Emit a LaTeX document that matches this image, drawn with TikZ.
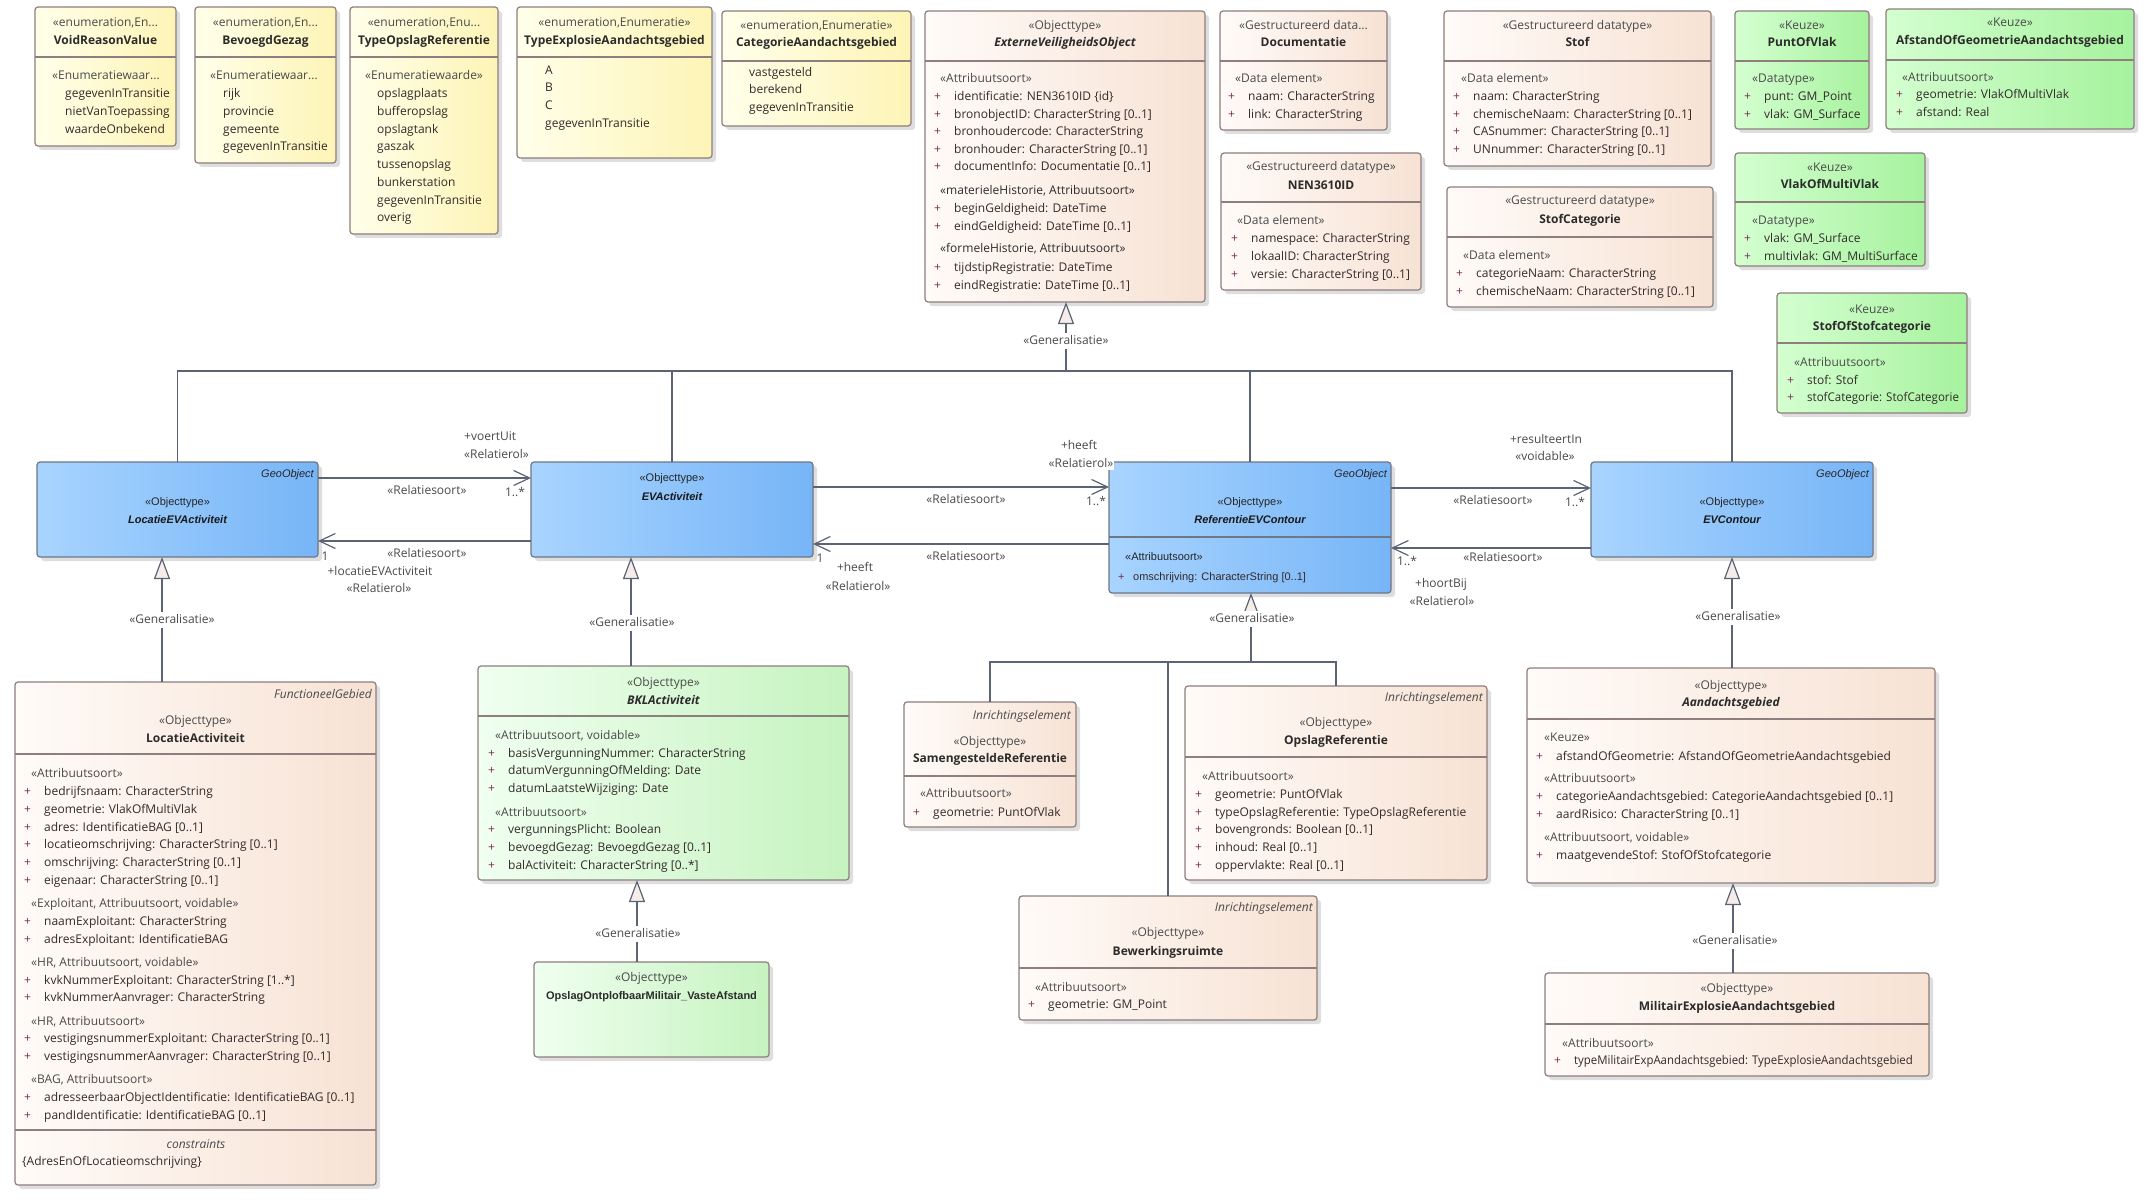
\documentclass[tikz,border=0pt]{standalone}
\usepackage{fontspec}
\setmainfont{Open Sans}
\newfontfamily\arialf{Liberation Sans}
\usetikzlibrary{arrows.meta,shadows}
\definecolor{lnc}{HTML}{5B6475}
\definecolor{bdc}{HTML}{8E7E7E}
\definecolor{bluB}{HTML}{6E7784}
\definecolor{txc}{HTML}{332A2A}
\definecolor{sterc}{HTML}{4A4A4A}
\definecolor{namec}{HTML}{2B2B2B}
\definecolor{plc}{HTML}{7B2D50}
\definecolor{genf}{HTML}{F6ECEA}
\definecolor{yelL}{HTML}{FFFFEA}
\definecolor{yelR}{HTML}{FDF4B6}
\definecolor{peaL}{HTML}{FFFBF8}
\definecolor{peaR}{HTML}{F7E2D4}
\definecolor{grnL}{HTML}{D4FFD0}
\definecolor{grnR}{HTML}{A6F29E}
\definecolor{lgrL}{HTML}{F0FFF0}
\definecolor{lgrR}{HTML}{C6F3C0}
\definecolor{bluL}{HTML}{A8D4FF}
\definecolor{bluR}{HTML}{77B5F7}
\newcommand\fs{\fontsize{12}{14}\selectfont}
\newcommand\afs{\arialf\fontsize{11}{13}\selectfont}
\newcommand\pl{\makebox[20pt][l]{\textcolor{plc}{+}}}
\newcommand\bpl{\makebox[15pt][l]{\textcolor{plc}{+}}}
\newcommand\B[6]{\node[#2, minimum width={#5-#3}, minimum height={#6-#4}] (#1) at (#3,#4) {};}
\newcommand\D[3]{\draw[div] (#1,#3) -- (#2,#3);}
\begin{document}
\begin{tikzpicture}[x=1pt,y=-1pt, font=\fs, text=txc,
  box/.style={draw=bdc, line width=1.2pt, rounded corners=3pt, anchor=north west, inner sep=0pt, outer sep=0pt,
    drop shadow={shadow xshift=4pt,shadow yshift=-4pt,fill=black,opacity=0.13}},
  yel/.style={box, left color=yelL, right color=yelR},
  pea/.style={box, left color=peaL, right color=peaR},
  grn/.style={box, left color=grnL, right color=grnR},
  lgr/.style={box, left color=lgrL, right color=lgrR},
  blu/.style={box, draw=bluB, left color=bluL, right color=bluR},
  div/.style={draw=bdc, line width=1.1pt},
  txt/.style={inner sep=0pt, text height=9pt, text depth=3pt},
  ster/.style={txt, text=sterc},
  nm/.style={txt, font=\fs\bfseries, text=namec},
  nmi/.style={txt, font=\fs\bfseries\itshape, text=namec},
  sec/.style={txt, anchor=west, text=sterc},
  att/.style={txt, anchor=west},
  cor/.style={txt, anchor=east, font=\fs\itshape, text=sterc},
  lbl/.style={txt, text=sterc},
  bster/.style={txt, font=\afs, text=black!85},
  bnm/.style={txt, font=\afs\bfseries\itshape, text=black!90},
  bcor/.style={txt, anchor=east, font=\afs\itshape, text=black!85},
  bsec/.style={txt, anchor=west, font=\afs, text=black!85},
  batt/.style={txt, anchor=west, font=\afs, text=txc},
  conn/.style={draw=lnc, line width=1.3pt},
  assoc/.style={conn, -{Straight Barb[length=16pt,width=15pt,line width=1.2pt]}},
  gen/.style={conn, -{Triangle[length=22pt,width=16pt,fill=genf,line width=1.2pt]}},
  glbl/.style={txt, text=sterc, fill=white, inner xsep=1pt, inner ysep=2pt}
]
\fill[white] (0,0) rectangle (2153,1201);
\useasboundingbox (0,0) rectangle (2153,1201);

% ---------------- top row: enumerations ----------------
\B{vrv}{yel}{35}{7}{176}{146}\D{35}{176}{57}
\node[ster] (vrv-s) at (105.5,24) {«enumeration,En...};
\node[nm] (vrv-n) at (105.5,42) {VoidReasonValue};
\node[sec] (vrv-k) at (52,77) {«Enumeratiewaar...};
\node[att] (vrv-1) at (65,95) {gegevenInTransitie};
\node[att] (vrv-2) at (65,113) {nietVanToepassing};
\node[att] (vrv-3) at (65,131) {waardeOnbekend};

\B{bg}{yel}{195}{7}{336}{163}\D{195}{336}{57}
\node[ster] (bg-s) at (265.5,24) {«enumeration,En...};
\node[nm] (bg-n) at (265.5,42) {BevoegdGezag};
\node[sec] (bg-k) at (210,77) {«Enumeratiewaar...};
\node[att] (bg-1) at (223,95) {rijk};
\node[att] (bg-2) at (223,113) {provincie};
\node[att] (bg-3) at (223,131) {gemeente};
\node[att] (bg-4) at (223,148) {gegevenInTransitie};

\B{tor}{yel}{350}{7}{498}{234}\D{350}{498}{57}
\node[ster] (tor-s) at (424,24) {«enumeration,Enu...};
\node[nm] (tor-n) at (424,42) {TypeOpslagReferentie};
\node[sec] (tor-k) at (365,77) {«Enumeratiewaarde»};
\node[att] (tor-1) at (377,95) {opslagplaats};
\node[att] (tor-2) at (377,113) {bufferopslag};
\node[att] (tor-3) at (377,131) {opslagtank};
\node[att] (tor-4) at (377,148) {gaszak};
\node[att] (tor-5) at (377,166) {tussenopslag};
\node[att] (tor-6) at (377,184) {bunkerstation};
\node[att] (tor-7) at (377,202) {gegevenInTransitie};
\node[att] (tor-8) at (377,219) {overig};

\B{tea}{yel}{517}{7}{712}{158}\D{517}{712}{57}
\node[ster] (tea-s) at (614.5,24) {«enumeration,Enumeratie»};
\node[nm] (tea-n) at (614.5,42) {TypeExplosieAandachtsgebied};
\node[att] (tea-1) at (545,72) {A};
\node[att] (tea-2) at (545,89) {B};
\node[att] (tea-3) at (545,107) {C};
\node[att] (tea-4) at (545,125) {gegevenInTransitie};

\B{cag}{yel}{722}{11}{911}{126}\D{722}{911}{61}
\node[ster] (cag-s) at (816.5,27) {«enumeration,Enumeratie»};
\node[nm] (cag-n) at (816.5,44) {CategorieAandachtsgebied};
\node[att] (cag-1) at (749,74) {vastgesteld};
\node[att] (cag-2) at (749,91) {berekend};
\node[att] (cag-3) at (749,109) {gegevenInTransitie};

% ---------------- top row: object / datatypes ----------------
\B{evo}{pea}{925}{11}{1205}{302}\D{925}{1205}{61}
\node[ster] (evo-s) at (1065,27) {«Objecttype»};
\node[nmi] (evo-n) at (1065,44) {ExterneVeiligheidsObject};
\node[sec] (evo-k1) at (940,80) {«Attribuutsoort»};
\node[att] (evo-1) at (934,98) {\pl identificatie: NEN3610ID \{id\}};
\node[att] (evo-2) at (934,116) {\pl bronobjectID: CharacterString [0..1]};
\node[att] (evo-3) at (934,133) {\pl bronhoudercode: CharacterString};
\node[att] (evo-4) at (934,151) {\pl bronhouder: CharacterString [0..1]};
\node[att] (evo-5) at (934,168) {\pl documentInfo: Documentatie [0..1]};
\node[sec, text=namec] (evo-k2) at (940,192) {«materieleHistorie, Attribuutsoort»};
\node[att] (evo-6) at (934,210) {\pl beginGeldigheid: DateTime};
\node[att] (evo-7) at (934,228) {\pl eindGeldigheid: DateTime [0..1]};
\node[sec, text=namec] (evo-k3) at (940,250) {«formeleHistorie, Attribuutsoort»};
\node[att] (evo-8) at (934,268) {\pl tijdstipRegistratie: DateTime};
\node[att] (evo-9) at (934,286) {\pl eindRegistratie: DateTime [0..1]};

\B{doc}{pea}{1220}{11}{1387}{130}\D{1220}{1387}{61}
\node[ster] (doc-s) at (1303.5,27) {«Gestructureerd data...};
\node[nm] (doc-n) at (1303.5,44) {Documentatie};
\node[sec] (doc-k) at (1235,80) {«Data element»};
\node[att] (doc-1) at (1228,98) {\pl naam: CharacterString};
\node[att] (doc-2) at (1228,116) {\pl link: CharacterString};

\B{nen}{pea}{1221}{153}{1421}{290}\D{1221}{1421}{202}
\node[ster] (nen-s) at (1321,168) {«Gestructureerd datatype»};
\node[nm] (nen-n) at (1321,187) {NEN3610ID};
\node[sec] (nen-k) at (1237,222) {«Data element»};
\node[att] (nen-1) at (1231,240) {\pl namespace: CharacterString};
\node[att] (nen-2) at (1231,258) {\pl lokaalID: CharacterString};
\node[att] (nen-3) at (1231,276) {\pl versie: CharacterString [0..1]};

\B{stof}{pea}{1444}{11}{1711}{166}\D{1444}{1711}{61}
\node[ster] (stof-s) at (1577.5,27) {«Gestructureerd datatype»};
\node[nm] (stof-n) at (1577.5,44) {Stof};
\node[sec] (stof-k) at (1461,80) {«Data element»};
\node[att] (stof-1) at (1453,98) {\pl naam: CharacterString};
\node[att] (stof-2) at (1453,116) {\pl chemischeNaam: CharacterString [0..1]};
\node[att] (stof-3) at (1453,133) {\pl CASnummer: CharacterString [0..1]};
\node[att] (stof-4) at (1453,151) {\pl UNnummer: CharacterString [0..1]};

\B{stc}{pea}{1447}{187}{1713}{307}\D{1447}{1713}{237}
\node[ster] (stc-s) at (1580,202) {«Gestructureerd datatype»};
\node[nm] (stc-n) at (1580,221) {StofCategorie};
\node[sec] (stc-k) at (1463,256) {«Data element»};
\node[att] (stc-1) at (1456,274) {\pl categorieNaam: CharacterString};
\node[att] (stc-2) at (1456,292) {\pl chemischeNaam: CharacterString [0..1]};

% ---------------- keuze ----------------
\B{pov}{grn}{1735}{11}{1869}{129}\D{1735}{1869}{61}
\node[ster] (pov-s) at (1802,27) {«Keuze»};
\node[nm] (pov-n) at (1802,44) {PuntOfVlak};
\node[sec] (pov-k) at (1752,80) {«Datatype»};
\node[att] (pov-1) at (1744,98) {\pl punt: GM\_Point};
\node[att] (pov-2) at (1744,116) {\pl vlak: GM\_Surface};

\B{aog}{grn}{1886}{9}{2134}{129}\D{1886}{2134}{60}
\node[ster] (aog-s) at (2010,24) {«Keuze»};
\node[nm] (aog-n) at (2010,42) {AfstandOfGeometrieAandachtsgebied};
\node[sec] (aog-k) at (1902,79) {«Attribuutsoort»};
\node[att] (aog-1) at (1896,96) {\pl geometrie: VlakOfMultiVlak};
\node[att] (aog-2) at (1896,114) {\pl afstand: Real};

\B{vomv}{grn}{1735}{153}{1925}{266}\D{1735}{1925}{202}
\node[ster] (vomv-s) at (1830,169) {«Keuze»};
\node[nm] (vomv-n) at (1830,186) {VlakOfMultiVlak};
\node[sec] (vomv-k) at (1752,222) {«Datatype»};
\node[att] (vomv-1) at (1744,240) {\pl vlak: GM\_Surface};
\node[att] (vomv-2) at (1744,258) {\pl multivlak: GM\_MultiSurface};

\B{sos}{grn}{1777}{293}{1967}{413}\D{1777}{1967}{343}
\node[ster] (sos-s) at (1872,310) {«Keuze»};
\node[nm] (sos-n) at (1872,327) {StofOfStofcategorie};
\node[sec] (sos-k) at (1794,363) {«Attribuutsoort»};
\node[att] (sos-1) at (1787,381) {\pl stof: Stof};
\node[att] (sos-2) at (1787,398) {\pl \scalebox{0.96}[1]{stofCategorie: StofCategorie}};

% ---------------- middle row (blue) ----------------
\B{locev}{blu}{37}{462}{318}{557}
\node[bcor] (locev-g) at (314,474) {GeoObject};
\node[bster] (locev-s) at (177.5,502) {«Objecttype»};
\node[bnm] (locev-n) at (177.5,520) {LocatieEVActiviteit};

\B{evact}{blu}{531}{462}{813}{557}
\node[bster] (evact-s) at (672,478) {«Objecttype»};
\node[bnm] (evact-n) at (672,497) {EVActiviteit};

\B{refc}{blu}{1109}{462}{1391}{593}
\draw[draw=bluB, line width=1.1pt] (1109,537) -- (1391,537);
\node[bcor] (refc-g) at (1387,474) {GeoObject};
\node[bster] (refc-s) at (1250,502) {«Objecttype»};
\node[bnm] (refc-n) at (1250,520) {ReferentieEVContour};
\node[bsec] (refc-k) at (1125,557) {«Attribuutsoort»};
\node[batt] (refc-1) at (1118,577) {\bpl omschrijving: CharacterString [0..1]};

\B{evc}{blu}{1591}{462}{1873}{557}
\node[bcor] (evc-g) at (1869,474) {GeoObject};
\node[bster] (evc-s) at (1732,502) {«Objecttype»};
\node[bnm] (evc-n) at (1732,520) {EVContour};

% ---------------- bottom row ----------------
\B{locact}{pea}{15}{682}{376}{1185}\D{15}{376}{754}\D{15}{376}{1130}
\node[cor] (locact-c) at (372,695) {FunctioneelGebied};
\node[ster] (locact-s) at (195.5,721) {«Objecttype»};
\node[nm] (locact-n) at (195.5,739) {LocatieActiviteit};
\node[sec] (locact-k1) at (31,774) {«Attribuutsoort»};
\node[att] (locact-1) at (24,792) {\pl bedrijfsnaam: CharacterString};
\node[att] (locact-2) at (24,810) {\pl geometrie: VlakOfMultiVlak};
\node[att] (locact-3) at (24,828) {\pl adres: IdentificatieBAG [0..1]};
\node[att] (locact-4) at (24,845) {\pl locatieomschrijving: CharacterString [0..1]};
\node[att] (locact-5) at (24,863) {\pl omschrijving: CharacterString [0..1]};
\node[att] (locact-6) at (24,881) {\pl eigenaar: CharacterString [0..1]};
\node[sec] (locact-k2) at (31,904) {«Exploitant, Attribuutsoort, voidable»};
\node[att] (locact-7) at (24,922) {\pl naamExploitant: CharacterString};
\node[att] (locact-8) at (24,940) {\pl adresExploitant: IdentificatieBAG};
\node[sec] (locact-k3) at (31,963) {«HR, Attribuutsoort, voidable»};
\node[att] (locact-9) at (24,981) {\pl kvkNummerExploitant: CharacterString [1..*]};
\node[att] (locact-10) at (24,998) {\pl kvkNummerAanvrager: CharacterString};
\node[sec] (locact-k4) at (31,1022) {«HR, Attribuutsoort»};
\node[att] (locact-11) at (24,1039) {\pl vestigingsnummerExploitant: CharacterString [0..1]};
\node[att] (locact-12) at (24,1057) {\pl vestigingsnummerAanvrager: CharacterString [0..1]};
\node[sec] (locact-k5) at (31,1080) {«BAG, Attribuutsoort»};
\node[att] (locact-13) at (24,1098) {\pl adresseerbaarObjectIdentificatie: IdentificatieBAG [0..1]};
\node[att] (locact-14) at (24,1116) {\pl pandIdentificatie: IdentificatieBAG [0..1]};
\node[txt, font=\fs\itshape, text=sterc] (locact-c2) at (196,1145) {constraints};
\node[att] (locact-15) at (22,1162) {\{AdresEnOfLocatieomschrijving\}};

\B{bkl}{lgr}{478}{666}{849}{880}\D{478}{849}{716}
\node[ster] (bkl-s) at (663.5,683) {«Objecttype»};
\node[nmi] (bkl-n) at (663.5,701) {BKLActiviteit};
\node[sec] (bkl-k1) at (495,736) {«Attribuutsoort, voidable»};
\node[att] (bkl-1) at (488,754) {\pl basisVergunningNummer: CharacterString};
\node[att] (bkl-2) at (488,771) {\pl datumVergunningOfMelding: Date};
\node[att] (bkl-3) at (488,789) {\pl datumLaatsteWijziging: Date};
\node[sec] (bkl-k2) at (495,813) {«Attribuutsoort»};
\node[att] (bkl-4) at (488,830) {\pl vergunningsPlicht: Boolean};
\node[att] (bkl-5) at (488,848) {\pl bevoegdGezag: BevoegdGezag [0..1]};
\node[att] (bkl-6) at (488,866) {\pl balActiviteit: CharacterString [0..*]};

\B{oom}{lgr}{534}{962}{769}{1057}
\node[ster] (oom-s) at (651.5,978) {«Objecttype»};
\node[txt, font=\afs\bfseries, text=namec] (oom-n) at (651.5,996) {OpslagOntplofbaarMilitair\_VasteAfstand};

\B{samref}{pea}{904}{702}{1076}{827}\D{904}{1076}{776}
\node[cor] (samref-c) at (1071,716) {Inrichtingselement};
\node[ster] (samref-s) at (990,742) {«Objecttype»};
\node[nm] (samref-n) at (990,759) {SamengesteldeReferentie};
\node[sec] (samref-k) at (920,794) {«Attribuutsoort»};
\node[att] (samref-1) at (913,813) {\pl geometrie: PuntOfVlak};

\B{oref}{pea}{1185}{686}{1487}{880}\D{1185}{1487}{757}
\node[cor] (oref-c) at (1483,698) {Inrichtingselement};
\node[ster] (oref-s) at (1336,723) {«Objecttype»};
\node[nm] (oref-n) at (1336,741) {OpslagReferentie};
\node[sec] (oref-k) at (1202,777) {«Attribuutsoort»};
\node[att] (oref-1) at (1195,795) {\pl geometrie: PuntOfVlak};
\node[att] (oref-2) at (1195,813) {\pl typeOpslagReferentie: TypeOpslagReferentie};
\node[att] (oref-3) at (1195,830) {\pl bovengronds: Boolean [0..1]};
\node[att] (oref-4) at (1195,848) {\pl inhoud: Real [0..1]};
\node[att] (oref-5) at (1195,866) {\pl oppervlakte: Real [0..1]};

\B{bew}{pea}{1019}{896}{1317}{1020}\D{1019}{1317}{968}
\node[cor] (bew-c) at (1313,908) {Inrichtingselement};
\node[ster] (bew-s) at (1168,933) {«Objecttype»};
\node[nm] (bew-n) at (1168,952) {Bewerkingsruimte};
\node[sec] (bew-k) at (1035,988) {«Attribuutsoort»};
\node[att] (bew-1) at (1028,1005) {\pl geometrie: GM\_Point};

\B{aag}{pea}{1527}{668}{1935}{883}\D{1527}{1935}{719}
\node[ster] (aag-s) at (1731,686) {«Objecttype»};
\node[nmi] (aag-n) at (1731,703) {Aandachtsgebied};
\node[sec] (aag-k1) at (1544,738) {«Keuze»};
\node[att] (aag-1) at (1536,757) {\pl afstandOfGeometrie: AfstandOfGeometrieAandachtsgebied};
\node[sec] (aag-k2) at (1544,779) {«Attribuutsoort»};
\node[att] (aag-2) at (1536,797) {\pl categorieAandachtsgebied: CategorieAandachtsgebied [0..1]};
\node[att] (aag-3) at (1536,815) {\pl aardRisico: CharacterString [0..1]};
\node[sec] (aag-k3) at (1544,838) {«Attribuutsoort, voidable»};
\node[att] (aag-4) at (1536,856) {\pl maatgevendeStof: StofOfStofcategorie};

\B{meag}{pea}{1545}{973}{1929}{1076}\D{1545}{1929}{1024}
\node[ster] (meag-s) at (1737,989) {«Objecttype»};
\node[nm] (meag-n) at (1737,1007) {MilitairExplosieAandachtsgebied};
\node[sec] (meag-k) at (1562,1044) {«Attribuutsoort»};
\node[att] (meag-1) at (1554,1061) {\pl \scalebox{0.95}[1]{typeMilitairExpAandachtsgebied: TypeExplosieAandachtsgebied}};

% ---------------- generalisation tree to ExterneVeiligheidsObject ----------------
\coordinate (evoj) at (1066,371);
\draw[conn] (locev.north) |- (evoj);
\draw[conn] (evact.north) -- (evact.north |- evoj);
\draw[conn] (refc.north) -- (refc.north |- evoj);
\draw[conn] (evc.north) |- (evoj);
\draw[gen] (evoj) -- (evo.south -| evoj);
\node[glbl] (g0) at (1066,341) {«Generalisatie»};

% other generalisations
\coordinate (gx1) at (162,0);
\draw[gen] (locact.north -| gx1) -- (locev.south -| gx1);
\node[glbl] (g1) at (172,620) {«Generalisatie»};

\coordinate (gx2) at (631,0);
\draw[gen] (bkl.north -| gx2) -- (evact.south -| gx2);
\node[glbl] (g2) at (632,623) {«Generalisatie»};

\coordinate (gx3) at (637,0);
\draw[gen] (oom.north -| gx3) -- (bkl.south -| gx3);
\node[glbl] (g3) at (638,934) {«Generalisatie»};

\coordinate (refj) at (1251,662);
\draw[conn] (samref.north) |- (oref.north |- refj) -- (oref.north);
\draw[conn] (bew.north) -- (bew.north |- refj);
\draw[gen] (refj) -- (refc.south -| refj);
\node[glbl] (g4) at (1252,619) {«Generalisatie»};

\coordinate (gx5) at (1732,0);
\draw[gen] (aag.north -| gx5) -- (evc.south -| gx5);
\node[glbl] (g5) at (1738,617) {«Generalisatie»};

\coordinate (gx6) at (1733,0);
\draw[gen] (meag.north -| gx6) -- (aag.south -| gx6);
\node[glbl] (g6) at (1735,941) {«Generalisatie»};

% ---------------- associations ----------------
\coordinate (ya1) at (0,478);
\coordinate (ya2) at (0,541);
\coordinate (yb1) at (0,487);
\coordinate (yb2) at (0,544);
\coordinate (yc1) at (0,488);
\coordinate (yc2) at (0,548);
\draw[assoc] (locev.east |- ya1) -- (evact.west |- ya1);
\draw[assoc] (evact.west |- ya2) -- (locev.east |- ya2);
\draw[assoc] (evact.east |- yb1) -- (refc.west |- yb1);
\draw[assoc] (refc.west |- yb2) -- (evact.east |- yb2);
\draw[assoc] (refc.east |- yc1) -- (evc.west |- yc1);
\draw[assoc] (evc.west |- yc2) -- (refc.east |- yc2);

\node[lbl, anchor=west] (a1-r) at (464,437) {+voertUit};
\node[lbl, anchor=west] (a1-t) at (464,455) {«Relatierol»};
\node[lbl] (a1-s) at (427,491) {«Relatiesoort»};
\node[lbl] (a1-m) at (515,493) {1..*};
\node[lbl] (a2-m) at (325,557) {1};
\node[lbl] (a2-s) at (427,554) {«Relatiesoort»};
\node[lbl] (a2-r) at (380,572) {+locatieEVActiviteit};
\node[lbl] (a2-t) at (379,589) {«Relatierol»};

\node[lbl] (b1-r) at (1079,446) {+heeft};
\node[lbl, fill=white, inner xsep=1pt] (b1-t) at (1081,464) {«Relatierol»};
\node[lbl] (b1-s) at (966,500) {«Relatiesoort»};
\node[lbl] (b1-m) at (1096,502) {1..*};
\node[lbl] (b2-m) at (820,559) {1};
\node[lbl] (b2-r) at (855,568) {+heeft};
\node[lbl] (b2-t) at (858,587) {«Relatierol»};
\node[lbl] (b2-s) at (966,557) {«Relatiesoort»};

\node[lbl] (c1-r) at (1546,440) {+resulteertIn};
\node[lbl] (c1-t) at (1545,457) {«voidable»};
\node[lbl] (c1-s) at (1493,501) {«Relatiesoort»};
\node[lbl] (c1-m) at (1575,503) {1..*};
\node[lbl] (c2-m) at (1407,562) {1..*};
\node[lbl] (c2-s) at (1503,558) {«Relatiesoort»};
\node[lbl] (c2-r) at (1441,584) {+hoortBij};
\node[lbl] (c2-t) at (1442,602) {«Relatierol»};
\end{tikzpicture}
\end{document}
